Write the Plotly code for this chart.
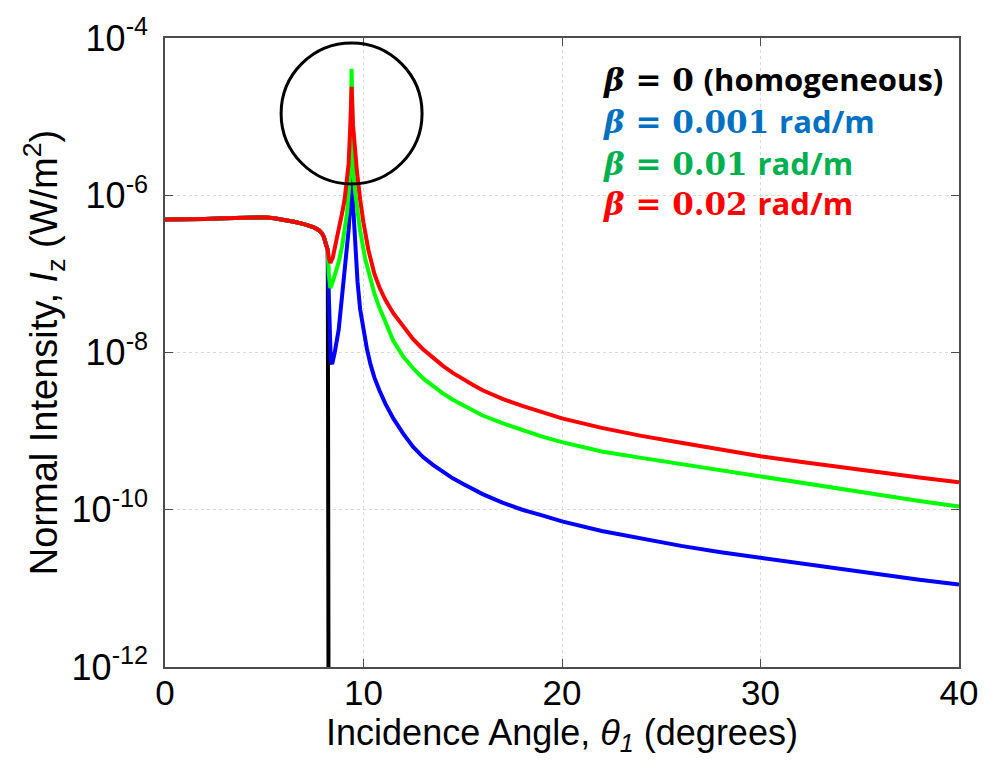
import plotly.graph_objects as go

# ---------------- data ----------------
# shared part of all curves below the critical angle
x_common = [0, 1, 2, 3, 4, 5, 5.5, 6, 6.5, 7, 7.5, 7.75, 7.9, 8.0, 8.1, 8.2]
y_common = [4.9e-7, 4.9e-7, 5.0e-7, 5.1e-7, 5.25e-7, 5.25e-7, 5.1e-7, 4.9e-7,
            4.6e-7, 4.3e-7, 3.9e-7, 3.6e-7, 3.3e-7, 2.95e-7, 2.5e-7, 2.0e-7]

# beta = 0 (homogeneous): drops to zero at the critical angle
x_black = [8.25]
y_black = [1e-14]

# beta = 0.001 rad/m
x_blue = [8.22, 8.28, 8.35, 8.42, 8.55, 8.75, 9.0, 9.15, 9.25, 9.33,
          9.4, 9.47, 9.58, 9.7, 9.83, 10.0, 10.17, 10.35, 10.55, 10.8, 11.1,
          11.5, 12, 12.5, 13, 13.5, 14, 14.5, 15, 15.5, 16, 17, 18, 19, 20,
          22, 24, 26, 28, 30, 32, 34, 36, 38, 40]
y_blue = [1.0e-7, 2.5e-8, 7.9e-9, 7.1e-9, 1.0e-8, 1.95e-8, 8.5e-8, 2.0e-7, 3.6e-7, 7.9e-7,
          2.82e-6, 7.9e-7, 2.24e-7, 7.9e-8, 3.55e-8, 1.86e-8, 1.12e-8, 7.1e-9, 4.79e-9,
          3.31e-9, 2.24e-9, 1.45e-9, 9.3e-10, 6.3e-10, 4.68e-10, 3.72e-10, 3.02e-10,
          2.51e-10, 2.14e-10, 1.82e-10, 1.58e-10, 1.23e-10, 1.0e-10, 8.5e-11, 7.1e-11,
          5.37e-11, 4.27e-11, 3.47e-11, 2.88e-11, 2.45e-11, 2.04e-11, 1.74e-11,
          1.48e-11, 1.29e-11, 1.12e-11]

# beta = 0.01 rad/m
x_green = [8.25, 8.33, 8.45, 8.58, 8.75, 8.92, 9.05, 9.17, 9.3, 9.35,
           9.4, 9.45, 9.5, 9.6, 9.83, 10.08, 10.3, 10.55, 10.8, 11.1, 11.5, 12,
           12.5, 13, 13.5, 14, 14.5, 15, 15.5, 16, 17, 18, 19, 20, 22, 24, 26,
           28, 30, 32, 34, 36, 38, 40]
y_green = [1.0e-7, 6.6e-8, 7.9e-8, 1.02e-7, 1.41e-7, 2.24e-7, 3.55e-7, 5.9e-7, 1.55e-6, 4.0e-6,
           4.07e-5, 3.98e-6, 1.78e-6, 1.0e-6, 3.55e-7, 1.58e-7, 9.3e-8, 5.62e-8,
           3.72e-8, 2.4e-8, 1.41e-8, 8.9e-9, 6.3e-9, 4.68e-9, 3.72e-9, 3.02e-9,
           2.51e-9, 2.14e-9, 1.82e-9, 1.58e-9, 1.26e-9, 1.02e-9, 8.5e-10, 7.24e-10,
           5.5e-10, 4.57e-10, 3.8e-10, 3.16e-10, 2.63e-10, 2.19e-10, 1.82e-10,
           1.55e-10, 1.29e-10, 1.10e-10]

# beta = 0.02 rad/m
x_red = [8.25, 8.33, 8.45, 8.58, 8.75, 8.92, 9.05, 9.17, 9.25, 9.33,
         9.4, 9.47, 9.55, 9.67, 9.83, 10.0, 10.25, 10.55, 10.8, 11.1, 11.5, 12,
         12.5, 13, 13.5, 14, 14.5, 15, 15.5, 16, 17, 18, 19, 20, 22, 24, 26, 28,
         30, 32, 34, 36, 38, 40]
y_red = [1.6e-7, 1.38e-7, 1.6e-7, 2.24e-7, 3.55e-7, 5.9e-7, 8.9e-7, 1.55e-6, 2.5e-6, 7.1e-6,
         2.4e-5, 7.9e-6, 3.98e-6, 2.0e-6, 8.9e-7, 4.47e-7, 2.0e-7, 1.0e-7, 6.76e-8,
         4.68e-8, 3.16e-8, 2.14e-8, 1.48e-8, 1.10e-8, 8.5e-9, 6.76e-9, 5.5e-9,
         4.57e-9, 3.89e-9, 3.31e-9, 2.57e-9, 2.09e-9, 1.74e-9, 1.45e-9, 1.10e-9,
         8.7e-10, 7.1e-10, 5.75e-10, 4.79e-10, 4.07e-10, 3.47e-10, 2.95e-10,
         2.57e-10, 2.24e-10]

x_ticks = [0, 10, 20, 30, 40]
y_ticks = [1e-12, 1e-10, 1e-8, 1e-6, 1e-4]
y_ticktext = ["10<sup>-12</sup>", "10<sup>-10</sup>", "10<sup>-8</sup>",
              "10<sup>-6</sup>", "10<sup>-4</sup>"]

legend_values = ["0", "0.001", "0.01", "0.02"]
legend_units = ["(homogeneous)", "rad/m", "rad/m", "rad/m"]
legend_colors = ["#000000", "#0070C0", "#00B050", "#FF0000"]

# ---------------- figure ----------------
fig = go.Figure()
series = [
    (x_common + x_black, y_common + y_black, "#000000"),
    (x_common + x_blue, y_common + y_blue, "#0000FF"),
    (x_common + x_green, y_common + y_green, "#00FF00"),
    (x_common + x_red, y_common + y_red, "#FF0000"),
]
for xs, ys, col in series:
    fig.add_trace(go.Scatter(x=xs, y=ys, mode="lines",
                             line=dict(color=col, width=4),
                             showlegend=False, hoverinfo="skip"))

# highlight circle around the resonance peak
fig.add_shape(type="circle", xref="x", yref="paper",
              x0=5.85, x1=12.95, y0=0.768, y1=0.992,
              line=dict(color="black", width=3))

# coloured legend text
ys_leg = [0.935, 0.868, 0.802, 0.737]
for val, unit, col, yy in zip(legend_values, legend_units, legend_colors, ys_leg):
    txt = ("<b><i>β</i> = " + val + "</b> <span style='font-family:Open Sans'><b>"
           + unit + "</b></span>")
    fig.add_annotation(x=0.549, y=yy, xref="paper", yref="paper",
                       xanchor="left", yanchor="middle", showarrow=False,
                       text=txt,
                       font=dict(family="DejaVu Serif", size=31, color=col))

axis_common = dict(showline=True, linecolor="#4d4d4d", linewidth=1.5,
                   mirror="ticks", ticks="inside", ticklen=8, tickcolor="#4d4d4d",
                   showgrid=True, gridcolor="#d9d9d9", griddash="dot", gridwidth=1,
                   zeroline=False, ticklabeloverflow="allow")

fig.update_xaxes(range=[0, 40], tickvals=x_ticks,
                 tickfont=dict(family="Liberation Sans", size=35, color="black"),
                 ticklabelstandoff=-6,
                 title_text="Incidence Angle, <i>θ<sub>1</sub></i> (degrees)",
                 title_font=dict(family="Liberation Sans", size=36, color="black"),
                 title_standoff=2, **axis_common)
fig.update_yaxes(type="log", range=[-12, -4], tickvals=y_ticks,
                 ticktext=y_ticktext,
                 tickfont=dict(family="Liberation Sans", size=36, color="black"),
                 ticklabelstandoff=8,
                 title_text="Normal Intensity, <i>I</i><sub>z</sub> (W/m<sup>2</sup>)",
                 title_font=dict(family="Liberation Sans", size=38, color="black"),
                 title_standoff=2, **axis_common)

fig.update_layout(width=990, height=761,
                  margin=dict(l=165, r=20, t=32, b=94),
                  plot_bgcolor="white", paper_bgcolor="white")

fig.write_html("out.html",
               config={"displayModeBar": False},
               post_script="document.body.style.margin='0px';"
                           "document.body.style.overflow='hidden';")
